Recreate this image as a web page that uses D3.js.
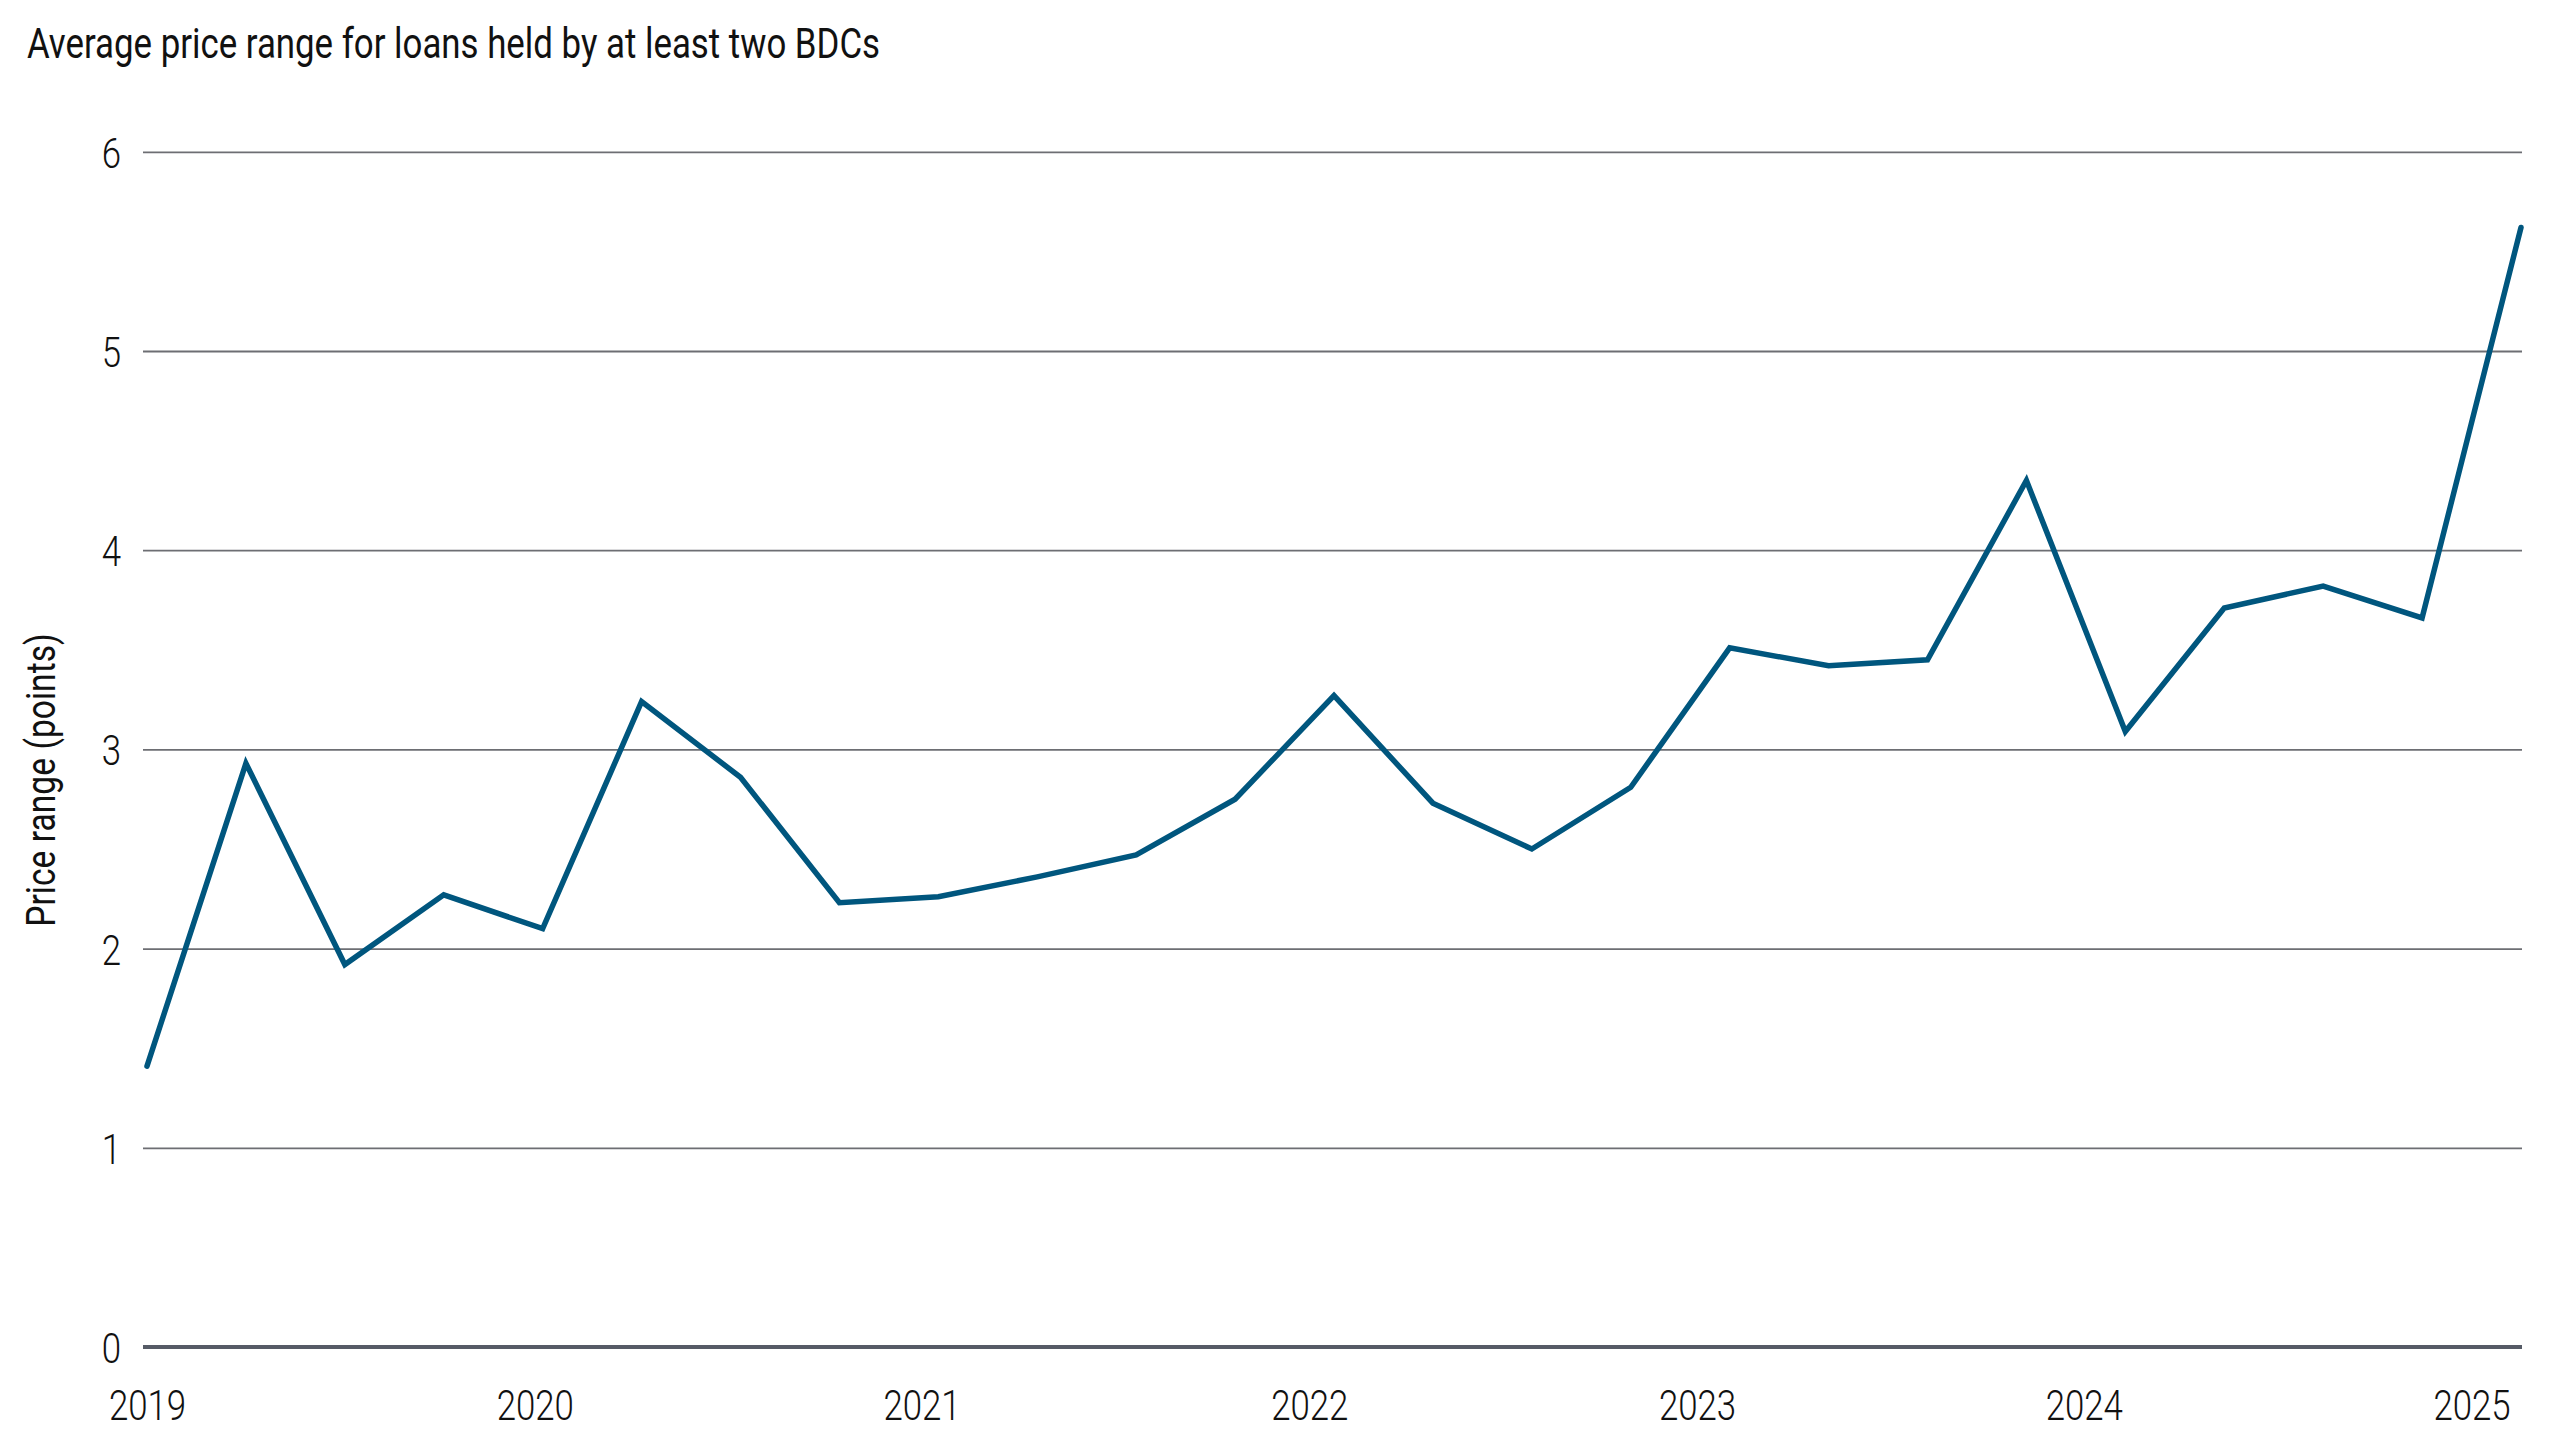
<!DOCTYPE html>
<html><head><meta charset="utf-8">
<script src="https://cdn.jsdelivr.net/npm/d3@7"></script>
<style>
body{margin:0;background:#fff;}
svg text{font-family:Roboto,"Liberation Sans",sans-serif;fill:#111;}
</style></head><body>
<svg id="chart" width="2560" height="1440"></svg>
<script>
// ---- data ----
const chartTitle = "Average price range for loans held by at least two BDCs";
const yAxisTitle = "Price range (points)";
const quarters = ["2019 Q1","2019 Q2","2019 Q3","2019 Q4","2020 Q1","2020 Q2","2020 Q3","2020 Q4",
  "2021 Q1","2021 Q2","2021 Q3","2021 Q4","2022 Q1","2022 Q2","2022 Q3","2022 Q4",
  "2023 Q1","2023 Q2","2023 Q3","2023 Q4","2024 Q1","2024 Q2","2024 Q3","2024 Q4","2025 Q1"];
const priceRange = [1.41, 2.93, 1.92, 2.27, 2.10, 3.24, 2.86, 2.23,
  2.26, 2.36, 2.47, 2.75, 3.27, 2.73, 2.50, 2.81,
  3.51, 3.42, 3.45, 4.35, 3.09, 3.71, 3.82, 3.66, 5.62];
const yearLabels = ["2019","2020","2021","2022","2023","2024","2025"];
const yearTickIndex = [0, 3.92, 7.83, 11.75, 15.67, 19.58, 23.5];
const yTicks = [0,1,2,3,4,5,6];

// ---- layout ----
const svg = d3.select("#chart");
const plotLeft = 143, plotRight = 2522, plotTop = 151.8, plotBottom = 1347;
const condense = 0.81;
const fs = 43;

const x = d3.scaleLinear().domain([0, quarters.length - 1]).range([147, 2521]);
const y = d3.scaleLinear().domain([0, 6]).range([plotBottom, plotTop]);

// title
svg.append("g").attr("transform", `translate(27,58) scale(${condense},1)`)
  .append("text").attr("font-size", fs).attr("font-weight", 400).text(chartTitle);

// y axis + gridlines
const yAxis = svg.append("g").attr("transform", `translate(${plotLeft},0)`)
  .call(d3.axisLeft(y).tickValues(yTicks).tickFormat(d3.format("d"))
    .tickSizeInner(-(plotRight - plotLeft)).tickSizeOuter(0).tickPadding(22));
yAxis.select(".domain").remove();
yAxis.selectAll(".tick line").attr("stroke", "#6d6e73").attr("stroke-width", 1.8)
  .filter(d => d === 0).remove();
yAxis.selectAll(".tick text")
  .attr("font-size", fs).attr("font-family", "Roboto").attr("font-weight", 300).attr("fill", "#111")
  .attr("x", -22 / condense).attr("dy", "0.36em")
  .attr("transform", `scale(${condense},1)`);

// zero baseline
svg.append("line").attr("x1", plotLeft).attr("x2", plotRight).attr("y1", y(0)).attr("y2", y(0))
  .attr("stroke", "#565b66").attr("stroke-width", 4);

// x axis
const xAxis = svg.append("g").attr("transform", `translate(0,${plotBottom})`)
  .call(d3.axisBottom(x).tickValues(yearTickIndex).tickFormat((d, i) => yearLabels[i]).tickSize(0));
xAxis.select(".domain").remove();
xAxis.selectAll(".tick text")
  .attr("font-size", fs).attr("font-family", "Roboto").attr("font-weight", 300).attr("fill", "#111")
  .attr("y", 73).attr("dy", 0)
  .attr("transform", `scale(${condense},1)`);

// y axis title
svg.append("g").attr("transform", `translate(55,780) rotate(-90) scale(0.82,1)`)
  .append("text").attr("font-size", 41).attr("font-weight", 400).attr("text-anchor", "middle").text(yAxisTitle);

// line
const line = d3.line().x((d, i) => x(i)).y(d => y(d));
svg.append("path").datum(priceRange)
  .attr("d", line)
  .attr("fill", "none").attr("stroke", "#00567e").attr("stroke-width", 5.5)
  .attr("stroke-linejoin", "miter").attr("stroke-linecap", "round");
</script></body></html>
